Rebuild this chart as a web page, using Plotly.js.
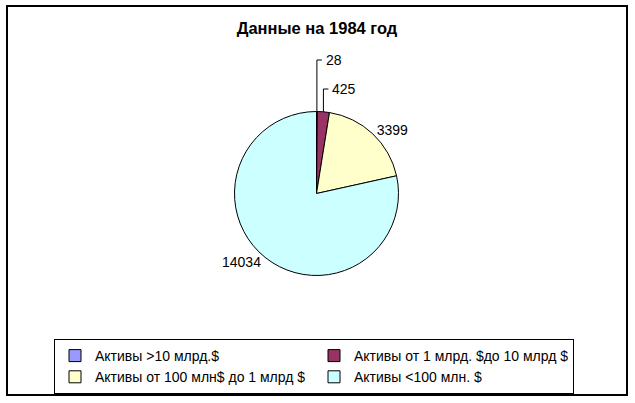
<!DOCTYPE html>
<html>
<head>
<meta charset="utf-8">
<script src="https://cdn.plot.ly/plotly-3.0.1.min.js"></script>
<style>html,body{margin:0;padding:0;background:#fff}#chart{width:635px;height:403px}</style>
</head>
<body>
<div id="chart"></div>
<script>
const categories = ["Активы >10 млрд.$", "Активы от 1 млрд. $до 10 млрд $", "Активы от 100 млн$ до 1 млрд $", "Активы <100 млн. $"];
const values = [28, 425, 3399, 14034];
const colors = ["#9999FF", "#993366", "#FFFFCC", "#CCFFFF"];
const titleText = "Данные на 1984 год";

const FONT = "Liberation Sans, Arial, sans-serif";
const W = 635, H = 403;
const cx = 316.5, cy = 193.5, r = 82;

// small slices get elbow leader labels (like the original), big ones use Plotly's outside text
const smallIdx = [0, 1];
const leaderTopY = [60, 89];   // pixel height of the label for each small slice
const leaderTick = [5, 5];

const total = values.reduce((a, b) => a + b, 0);
const textArr = values.map((v, i) => smallIdx.includes(i) ? "" : String(v));

const trace = {
  type: "pie",
  labels: categories,
  values: values,
  text: textArr,
  sort: false,
  direction: "clockwise",
  rotation: 0,
  marker: {colors: colors, line: {color: "#000", width: 1}},
  textinfo: "text",
  textposition: "outside",
  outsidetextfont: {family: FONT, size: 14, color: "#000"},
  domain: {x: [(cx - r) / W, (cx + r) / W], y: [(H - cy - r) / H, (H - cy + r) / H]},
  automargin: false,
  hoverinfo: "label+value"
};

const px = x => x / W;
const py = y => 1 - y / H;

const shapes = [
  {type: "rect", xref: "paper", yref: "paper", x0: px(7), x1: px(627), y0: py(395), y1: py(6),
   line: {color: "#000", width: 2}, fillcolor: "rgba(0,0,0,0)", layer: "below"}
];
const annotations = [];

let cum = 0;
values.forEach((v, i) => {
  const mid = (cum + v / 2) / total * 2 * Math.PI;
  cum += v;
  const k = smallIdx.indexOf(i);
  if (k < 0) return;
  const x0 = cx + r * Math.sin(mid);
  const y0 = cy - r * Math.cos(mid);
  const yt = leaderTopY[k];
  const xt = x0 + leaderTick[k];
  shapes.push({type: "path", xref: "paper", yref: "paper",
    path: `M${px(x0)},${py(y0)} L${px(x0)},${py(yt)} L${px(xt)},${py(yt)}`,
    line: {color: "#000", width: 1}});
  annotations.push({xref: "paper", yref: "paper", x: px(xt + 2), y: py(yt), xanchor: "left", yanchor: "middle",
    text: String(v), showarrow: false, font: {family: FONT, size: 14, color: "#000"}});
});

const layout = {
  width: W, height: H,
  margin: {l: 0, r: 0, t: 0, b: 0},
  paper_bgcolor: "#fff",
  font: {family: FONT, size: 14, color: "#000"},
  title: {text: "<b>" + titleText + "</b>", x: px(317), xanchor: "center", y: py(28), yanchor: "middle",
          font: {family: FONT, size: 16.5, color: "#000"}},
  showlegend: true,
  legend: {
    orientation: "h",
    x: px(54), xanchor: "left",
    y: py(339), yanchor: "top",
    entrywidth: 214, entrywidthmode: "pixels",
    bordercolor: "#000", borderwidth: 1,
    bgcolor: "#fff",
    itemwidth: 30,
    font: {family: FONT, size: 14, color: "#000"},
    traceorder: "normal"
  },
  shapes: shapes,
  annotations: annotations
};

Plotly.newPlot("chart", [trace], layout, {staticPlot: true, displayModeBar: false});
</script>
</body>
</html>
